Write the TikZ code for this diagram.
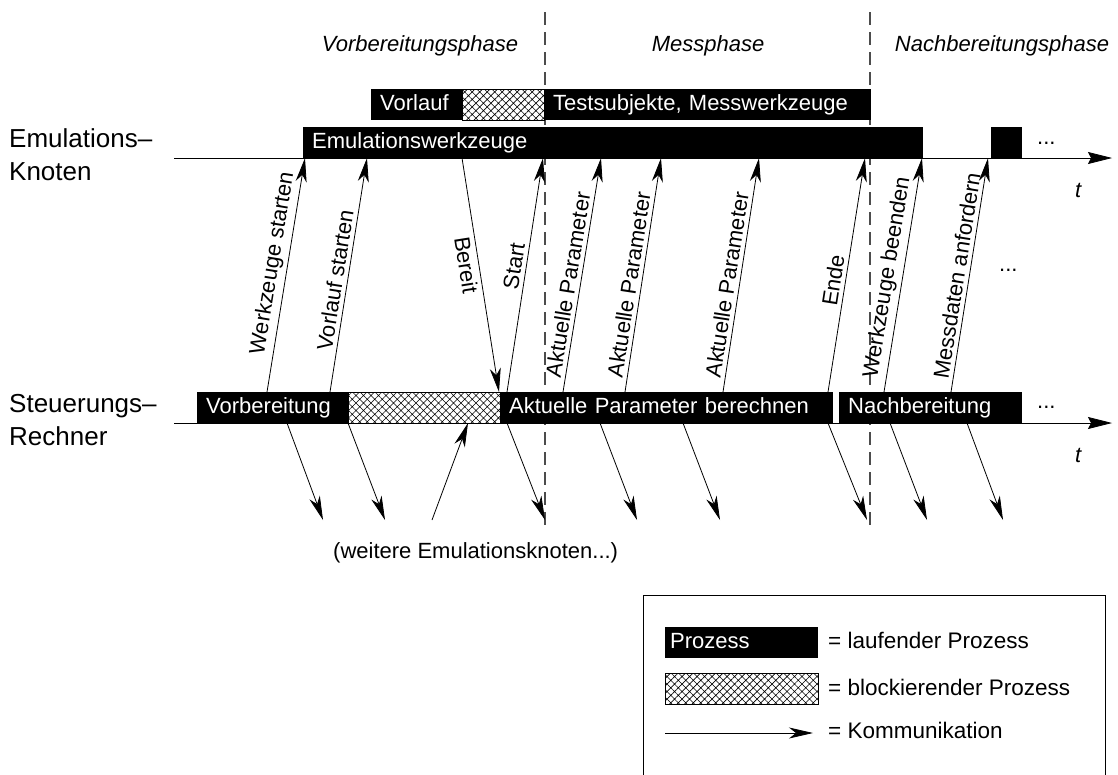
\documentclass[tikz,border=0pt]{standalone}
\usepackage{fontspec}
\setmainfont{Liberation Sans}
\usetikzlibrary{arrows.meta,patterns.meta}

\begin{document}
\begin{tikzpicture}[x=1pt,y=-1pt,
  txt/.style={font=\fontsize{22}{26}\selectfont, inner sep=0pt},
  side/.style={font=\fontsize{26}{32.5}\selectfont, inner sep=0pt, align=left, anchor=base west},
  phase/.style={font=\fontsize{22}{26}\selectfont\itshape, inner sep=0pt, anchor=base},
  bar/.style={anchor=north west, fill=black, text=white, font=\fontsize{22}{26}\selectfont,
    inner xsep=9pt, inner ysep=5pt, text height=16pt, text depth=5pt, align=left},
  hatchbar/.style={anchor=north west, draw=black, line width=0.6pt,
    pattern={Hatch[angle=45,distance=5.3pt,line width=0.6pt]},
    inner sep=0pt, minimum height=31pt},
  msg/.style={-{Stealth[length=24pt,width=11pt,inset=7pt]}, line width=0.8pt},
  lbl/.style={font=\fontsize{22}{26}\selectfont, sloped, inner sep=4pt},
  axis/.style={-{Stealth[length=24pt,width=12pt,inset=3pt]}, line width=0.8pt},
  phasesep/.style={draw=black!70, line width=1.1pt, dash pattern=on 13pt off 7pt},
]
\useasboundingbox (0,0) rectangle (1118,774);

% phase boundaries
\coordinate (s1a) at (545,12);  \coordinate (s1b) at (545,528);
\coordinate (s2a) at (870,12);  \coordinate (s2b) at (870,528);
\draw[phasesep] (s1a) -- (s1b);
\draw[phasesep] (s2a) -- (s2b);

% phase names
\node[phase] (ph1) at (420,51) {Vorbereitungsphase};
\node[phase] (ph2) at (708,51) {Messphase};
\node[phase] (ph3) at (1002,51) {Nachbereitungsphase};

% time axes
\coordinate (ax1a) at (174,158); \coordinate (ax1b) at (1112,158);
\coordinate (ax2a) at (174,423); \coordinate (ax2b) at (1112,423);
\draw[axis] (ax1a) -- (ax1b);
\draw[axis] (ax2a) -- (ax2b);
\node[txt, anchor=base west, font=\fontsize{22}{26}\selectfont\itshape] (t1) at (1075,197) {t};
\node[txt, anchor=base west, font=\fontsize{22}{26}\selectfont\itshape] (t2) at (1075,462) {t};

% lane names (anchor on the baseline of the second line)
\node[side] (lane1) at (9,180) {Emulations–\\Knoten};
\node[side] (lane2) at (9,445) {Steuerungs–\\Rechner};

% processes on the emulation node
\node[bar, text width=73pt] (vorlauf) at (371,89) {Vorlauf};
\node[hatchbar, minimum width=82pt] (vorlaufwait) at (462,89) {};
\node[bar, text width=309pt] (testsub) at (544,89) {Testsubjekte, Messwerkzeuge};
\node[bar, text width=602pt] (emu) at (303,127) {Emulationswerkzeuge};
\node[anchor=north west, fill=black, inner sep=0pt, minimum width=31pt, minimum height=31pt] (emu2) at (991,127) {};
\node[txt, anchor=base west] (dots1) at (1037,144) {...};

% processes on the control computer
\node[bar, text width=133pt] (vorb) at (197,392) {Vorbereitung};
\node[hatchbar, minimum width=152pt] (vorbwait) at (348,392) {};
\node[bar, text width=315pt] (akt) at (500,392) {Aktuelle Parameter berechnen};
\node[bar, text width=165pt] (nach) at (839,392) {Nachbereitung};
\node[txt, anchor=base west] (dots2) at (1037,408) {...};
\node[txt, anchor=base west] (dots3) at (999,271) {...};

% messages between the two lanes
\coordinate (m1a) at (267,392); \coordinate (m1b) at (305,158);
\coordinate (m2a) at (330,392); \coordinate (m2b) at (367,158);
\coordinate (m3a) at (462,158); \coordinate (m3b) at (499,392);
\coordinate (m4a) at (507,392); \coordinate (m4b) at (543,158);
\coordinate (m5a) at (563,392); \coordinate (m5b) at (601,158);
\coordinate (m6a) at (625,392); \coordinate (m6b) at (661,158);
\coordinate (m7a) at (723,392); \coordinate (m7b) at (759,158);
\coordinate (m8a) at (828,392); \coordinate (m8b) at (865,158);
\coordinate (m9a) at (884,392); \coordinate (m9b) at (922,158);
\coordinate (m10a) at (951,392); \coordinate (m10b) at (988,158);

\draw[msg] (m1a) -- node[lbl, above, pos=0.54] {Werkzeuge starten} (m1b);
\draw[msg] (m2a) -- node[lbl, above, pos=0.47] {Vorlauf starten} (m2b);
\draw[msg] (m3a) -- node[lbl, below, pos=0.45] {Bereit} (m3b);
\draw[msg] (m4a) -- node[lbl, above, pos=0.53] {Start} (m4b);
\draw[msg] (m5a) -- node[lbl, above, pos=0.45] {Aktuelle Parameter} (m5b);
\draw[msg] (m6a) -- node[lbl, above, pos=0.45] {Aktuelle Parameter} (m6b);
\draw[msg] (m7a) -- node[lbl, above, pos=0.45] {Aktuelle Parameter} (m7b);
\draw[msg] (m8a) -- node[lbl, above, pos=0.47] {Ende} (m8b);
\draw[msg] (m9a) -- node[lbl, above, pos=0.48] {Werkzeuge beenden} (m9b);
\draw[msg] (m10a) -- node[lbl, above, pos=0.49] {Messdaten anfordern} (m10b);

% messages to and from further emulation nodes
\coordinate (o1a) at (287,423); \coordinate (o1b) at (323,520);
\coordinate (o2a) at (348,423); \coordinate (o2b) at (385,520);
\coordinate (o3a) at (432,520); \coordinate (o3b) at (468,423);
\coordinate (o4a) at (507,423); \coordinate (o4b) at (545,520);
\coordinate (o5a) at (600,423); \coordinate (o5b) at (637,520);
\coordinate (o6a) at (683,423); \coordinate (o6b) at (720,520);
\coordinate (o7a) at (828,423); \coordinate (o7b) at (867,520);
\coordinate (o8a) at (890,423); \coordinate (o8b) at (927,520);
\coordinate (o9a) at (967,423); \coordinate (o9b) at (1003,520);
\foreach \i in {1,...,9} \draw[msg] (o\i a) -- (o\i b);

\node[txt, anchor=base west] (weitere) at (333,558) {(weitere Emulationsknoten...)};

% legend
\coordinate (lg1) at (643,776); \coordinate (lg2) at (643,595);
\coordinate (lg3) at (1105,595); \coordinate (lg4) at (1105,776);
\draw[line width=0.8pt] (lg1) -- (lg2) -- (lg3) -- (lg4);
\node[bar, inner xsep=5pt, text width=143pt] (lgproc) at (665,627) {Prozess};
\node[hatchbar, minimum width=153pt] (lgwait) at (665,673) {};
\coordinate (lga) at (665,733); \coordinate (lgb) at (813,733);
\draw[msg] (lga) -- (lgb);
\node[txt, anchor=base west, font=\fontsize{22.5}{26}\selectfont] (lgt1) at (828,648) {= laufender Prozess};
\node[txt, anchor=base west, font=\fontsize{22.5}{26}\selectfont] (lgt2) at (828,695) {= blockierender Prozess};
\node[txt, anchor=base west, font=\fontsize{22.5}{26}\selectfont] (lgt3) at (828,738) {= Kommunikation};
\end{tikzpicture}
\end{document}
